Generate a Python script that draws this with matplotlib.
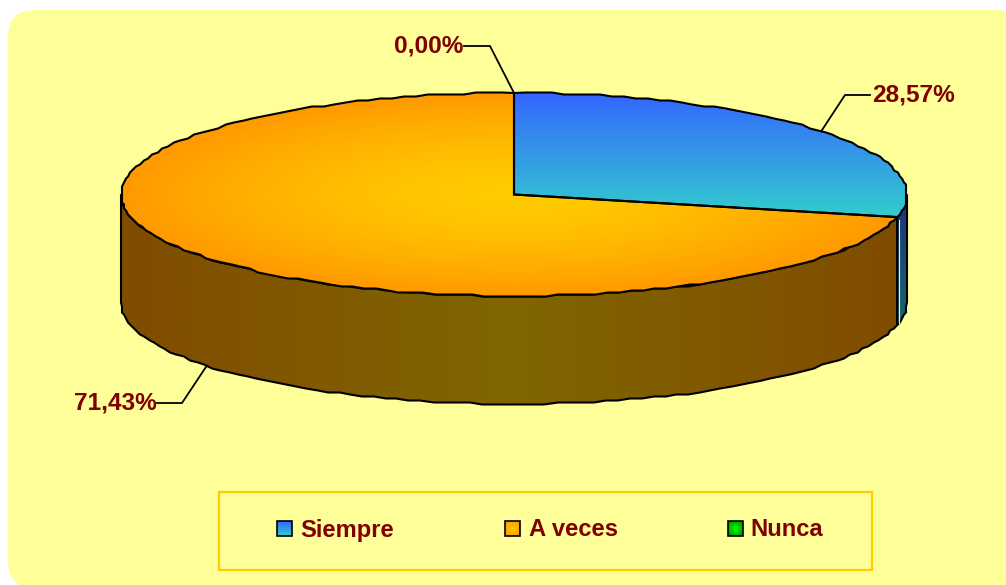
import numpy as np
import matplotlib
matplotlib.use("Agg")
import matplotlib.pyplot as plt
from matplotlib.patches import FancyBboxPatch, Polygon, Rectangle

categorias = ["Siempre", "A veces", "Nunca"]
porcentajes = [28.57, 71.43, 0.00]

plt.rcParams["font.family"] = ["Liberation Sans", "DejaVu Sans"]

ROJO = "#800000"
CX, CY, RX, RY, ALTO = 514, 194.5, 393, 101.5, 108


def borde(ang, dy=0):
    # angulo en grados desde arriba, sentido horario
    t = np.radians(ang)
    return CX + RX * np.sin(t), CY - RY * np.cos(t) + dy


def arco(a, b, dy=0, rejilla=2.0):
    # el borde del original va a saltos, se redondea a una rejilla
    n = max(int((b - a) / 1.8), 2)
    angs = np.linspace(a, b, n + 1)
    pts = []
    for k, x in enumerate(angs):
        px, py = borde(x, dy)
        if 0 < k < n:
            px = CX + round((px - CX) / rejilla) * rejilla
            py = CY + dy + round((py - CY - dy) / rejilla) * rejilla
        pts.append((px, py))
    return pts


def degradado(ax, parche, img, extent):
    im = ax.imshow(img, extent=extent, aspect="auto", interpolation="bilinear", zorder=parche.get_zorder())
    im.set_clip_path(parche)


def mezcla(c1, c2, t):
    c1 = np.array(matplotlib.colors.to_rgb(c1))
    c2 = np.array(matplotlib.colors.to_rgb(c2))
    return c1 + (c2 - c1) * t[..., None]


fig = plt.figure(figsize=(10.06, 5.85), dpi=100, facecolor="white")
ax = fig.add_axes([0, 0, 1, 1])
ax.axis("off")

fondo = FancyBboxPatch((8, 10), 1013, 578, boxstyle="round,pad=0,rounding_size=27", fc="#FFFF99", ec="none", zorder=1)
ax.add_patch(fondo)

# angulos de cada porcion
fin = np.cumsum(porcentajes) / 100 * 360
ini = np.concatenate([[0], fin[:-1]])
medio = (ini + fin) / 2

# laterales visibles (entre 90 y 270 grados)
lado_col = [("#1A3380", "#1A6666", "v"), ("#804C00", "#806600", "h"), ("#006600", "#006600", "v")]
for a0, a1, (c1, c2, modo) in zip(ini, fin, lado_col):
    a = max(a0, 90)
    b = min(a1, 270)
    if b <= a:
        continue
    arriba = arco(a, b)
    abajo = arco(a, b, ALTO)[::-1]
    p = Polygon(arriba + abajo, closed=True, fc="none", ec="none", zorder=3)
    ax.add_patch(p)
    if modo == "v":
        t = np.linspace(0, 1, 64)[:, None].repeat(2, axis=1)
        img = mezcla(c1, c2, t)
    else:
        u = np.abs(np.linspace(-1, 1, 256))[None, :].repeat(2, axis=0)
        img = mezcla(c2, c1, u)
    xs = [q[0] for q in arriba]
    ys = [q[1] for q in arriba + abajo]
    degradado(ax, p, img, (min(xs), max(xs), max(ys), min(ys)))
    ax.add_patch(Polygon(arriba + abajo, closed=True, fc="none", ec="black", lw=1.5, zorder=4))

# tapa superior
Y, X = np.mgrid[-1:1:300j, -1:1:600j]
tapa_col = [("#3366FF", "#33CCCC"), ("#FFCC00", "#FF9900"), ("#00FF00", "#009900")]
for i, (a0, a1, (c1, c2)) in enumerate(zip(ini, fin, tapa_col)):
    if a1 - a0 <= 0:
        continue
    pts = [(CX, CY)] + arco(a0, a1)
    p = Polygon(pts, closed=True, fc="none", ec="none", zorder=5)
    ax.add_patch(p)
    if i == 0:
        ys = [q[1] for q in pts]
        xs = [q[0] for q in pts]
        t = np.linspace(0, 1, 64)[:, None].repeat(2, axis=1)
        degradado(ax, p, mezcla(c1, c2, t), (min(xs), max(xs), max(ys), min(ys)))
    else:
        r = np.clip(np.hypot(X, Y) ** 1.5, 0, 1)
        degradado(ax, p, mezcla(c1, c2, r), (CX - RX, CX + RX, CY + RY, CY - RY))
    ax.add_patch(Polygon(pts, closed=True, fc="none", ec="black", lw=1.5, zorder=6))

# lineas guia y etiquetas
guias = [
    ((845, 95), (870, 95), "left", 872, 95),
    ((182, 403), (157, 403), "right", 157, 403),
    ((490, 46), (464, 46), "right", 463, 46),
]
for pct, ang, (codo, final, ha, tx, ty) in zip(porcentajes, medio, guias):
    x0, y0 = borde(ang, ALTO if 90 < ang < 270 else 0)
    ax.plot([x0, codo[0], final[0]], [y0, codo[1], final[1]], color="black", lw=1.3, zorder=7)
    ax.text(tx, ty, f"{pct:.2f}%".replace(".", ","), color=ROJO, fontsize=17.6, fontweight="bold",
            ha=ha, va="center", zorder=8)

# leyenda
ax.add_patch(Rectangle((219.5, 491.5), 653, 78, fc="#FFFF99", ec="#FFCC00", lw=1.6, zorder=2))
pos_marca = [277, 505, 728]
pos_texto = [300, 529, 750]
for nombre, mx, tx, (c1, c2) in zip(categorias, pos_marca, pos_texto, tapa_col):
    r = Rectangle((mx, 521), 15, 15, fc="none", ec="none", zorder=5)
    ax.add_patch(r)
    if nombre == "Siempre":
        t = np.linspace(0, 1, 32)[:, None].repeat(2, axis=1)
        img = mezcla(c1, c2, t)
    else:
        yy, xx = np.mgrid[-1:1:32j, -1:1:32j]
        img = mezcla(c1, c2, np.clip(np.hypot(xx, yy) / 1.2, 0, 1))
    degradado(ax, r, img, (mx, mx + 15, 536, 521))
    ax.add_patch(Rectangle((mx, 521), 15, 15, fc="none", ec="black", lw=1.2, zorder=6))
    ax.text(tx, 530, nombre, color=ROJO, fontsize=17.1, fontweight="bold", ha="left", va="center", zorder=6)

# linea clara junto al canto derecho
xb, yb = borde(fin[0])
ax.plot([xb + 1.6, xb + 1.6], [yb + 3, yb + ALTO - 2], color="#F2F2B8", lw=0.8, zorder=5)

ax.set_xlim(0, 1006)
ax.set_ylim(585, 0)

fig.savefig("out.png", dpi=100, facecolor="white")
plt.close(fig)
